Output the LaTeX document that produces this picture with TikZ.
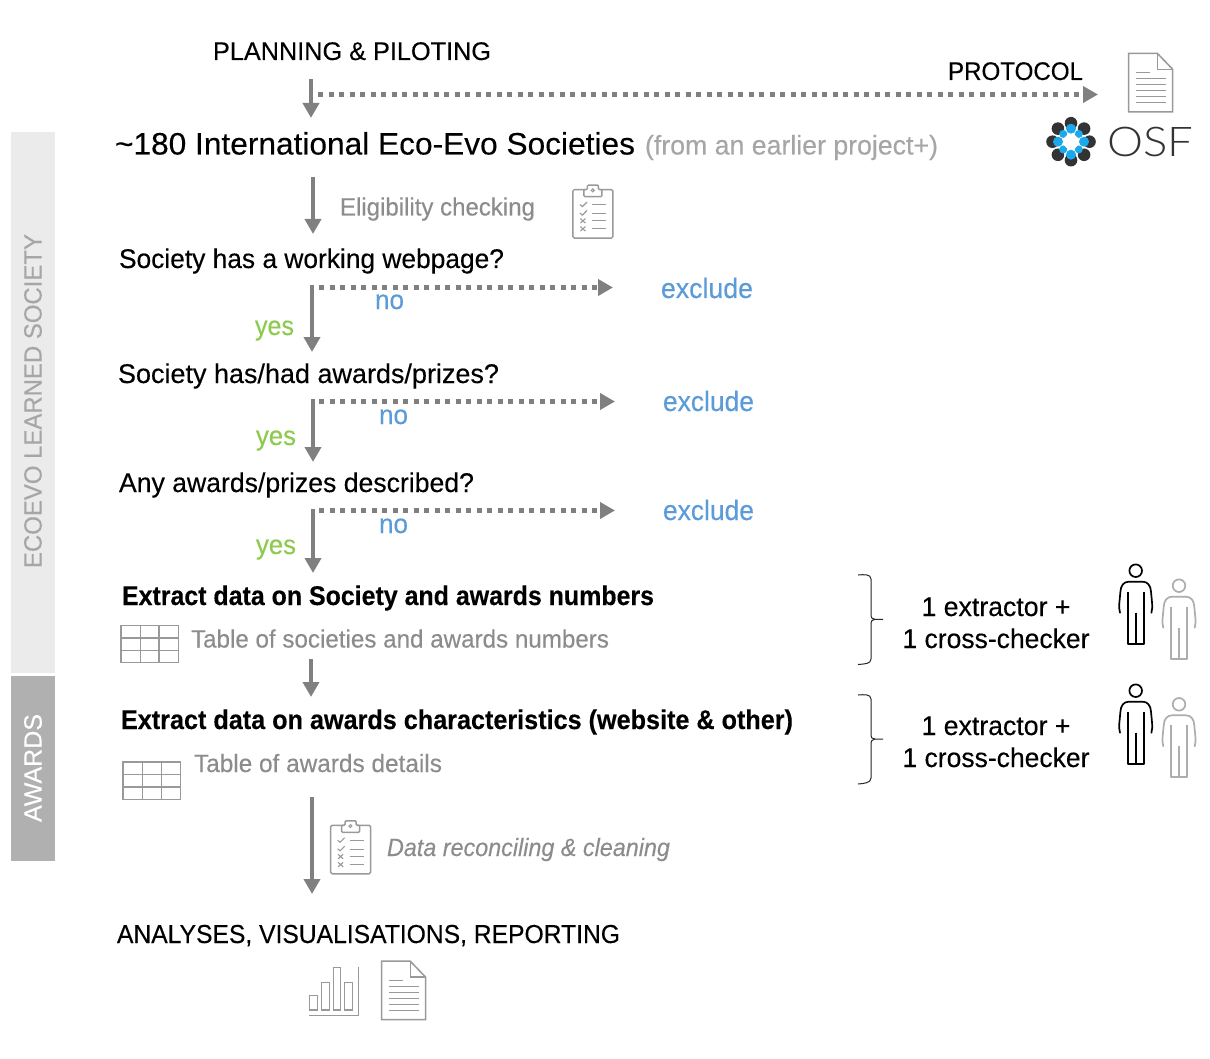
\documentclass[tikz,border=0pt]{standalone}
\usepackage{graphicx}
\usepackage{fontspec}
\setmainfont[FakeBold=0.25]{Liberation Sans}
\newfontfamily\osffont{Lato Light}
\usetikzlibrary{arrows.meta}
\definecolor{arrowgray}{HTML}{808080}
\definecolor{softgray}{HTML}{8C8C8C}
\definecolor{palegray}{HTML}{A6A6A6}
\definecolor{icongray}{HTML}{999999}
\definecolor{excludeblue}{HTML}{5B9BD8}
\definecolor{yesgreen}{HTML}{8CCB4E}
\definecolor{barlight}{HTML}{EBEBEB}
\definecolor{bardark}{HTML}{B0B0B0}
\definecolor{osfdark}{HTML}{333333}
\definecolor{osfblue}{HTML}{1CA9EC}
% width-fitted text: width, font size, text
\newcommand{\fw}[3]{\resizebox{#1pt}{\height}{\fontsize{#2}{#2}\selectfont #3}}
\tikzset{
  lbl/.style={anchor=base west,inner sep=0pt,outer sep=0pt},
  ctr/.style={anchor=base,inner sep=0pt,outer sep=0pt},
  flow/.style={draw=arrowgray,line width=4.6pt,-{Triangle[length=15pt,width=16pt]}},
  nogo/.style={draw=arrowgray,line width=4.6pt,dash pattern=on 5pt off 5.5pt,-{Triangle[length=15pt,width=16pt]}},
  brace/.style={draw=black!85,line width=1pt},
  pics/docicon/.style={code={
    \draw[icongray,line width=1.5pt,fill=white] (0,0) -- (28.6,0) -- (44,16) -- (44,58.7) -- (0,58.7) -- cycle;
    \draw[icongray,line width=1.2pt] (28.6,0) -- (28.6,16) -- (44,16);
    \draw[icongray,line width=1.2pt] (7.3,19.4) -- (21.3,19.4);
    \foreach \yy in {25.4,31.4,37.4,43.4,49.4} \draw[icongray,line width=1.2pt] (7.3,\yy) -- (37.3,\yy);
  }},
  pics/clipicon/.style={code={
    \draw[icongray,line width=1.4pt,rounded corners=1.5pt] (0,0) rectangle (40,48.5);
    \draw[icongray,line width=1.4pt,fill=white,rounded corners=1pt] (11,7) -- (11,0) -- (14.5,0) -- (14.5,-4.5) -- (25.5,-4.5) -- (25.5,0) -- (29,0) -- (29,7) -- cycle;
    \draw[icongray,line width=1pt] (19.8,0.8) circle (1.5);
    \foreach \yy in {15,24,31,39} \draw[icongray,line width=1.1pt] (19,\yy) -- (33,\yy);
    \draw[icongray,line width=1.1pt] (7,15) -- (9.5,17) -- (14,12.5);
    \draw[icongray,line width=1.1pt] (7,23.5) -- (9.5,25.5) -- (14,21);
    \draw[icongray,line width=1.1pt] (7.5,29) -- (12.5,33.5) (12.5,29) -- (7.5,33.5);
    \draw[icongray,line width=1.1pt] (7.5,37) -- (12.5,41.5) (12.5,37) -- (7.5,41.5);
  }},
  pics/tableicon/.style={code={
    \draw[icongray,line width=1.5pt] (0,0) rectangle (57.5,37.3);
    \draw[icongray,line width=1.5pt] (19.5,0) -- (19.5,37.3) (38.3,0) -- (38.3,37.3) (0,12.6) -- (57.5,12.6) (0,25) -- (57.5,25);
  }},
  pics/personicon/.style={code={
    \draw[line width=1.7pt,line join=round,line cap=round,pic actions] (0,0) circle (6.3);
    \draw[line width=1.7pt,line join=round,line cap=round,pic actions] (-15.7,42) .. controls (-17.5,37) and (-15.8,28) .. (-15.3,21) .. controls (-15,15) and (-12,11) .. (-7,11) -- (7,11) .. controls (12,11) and (15,15) .. (15.3,21) .. controls (15.8,28) and (17.5,37) .. (15.7,42);
    \draw[line width=1.7pt,line join=round,pic actions] (-8,21) -- (-8,73) -- (8,73) -- (8,21) (0,42) -- (0,73);
  }},
}
\begin{document}
\begin{tikzpicture}[x=1pt,y=-1pt]
\useasboundingbox[fill=white] (0,0) rectangle (1210,1059);
% side bars
\fill[barlight] (11,132) rectangle (55,673);
\fill[bardark] (11,676) rectangle (55,861);
\node[rotate=90,inner sep=0pt,text=palegray] (bar1) at (33,401) {\fw{334}{25}{ECOEVO LEARNED SOCIETY}};
\node[rotate=90,inner sep=0pt,text=white] (bar2) at (33,768) {\fw{108}{25}{AWARDS}};
% main texts
\node[lbl] (plan) at (213,60) {\fw{278}{25.5}{PLANNING \& PILOTING}};
\node[lbl] (prot) at (948,80) {\fw{135}{25.5}{PROTOCOL}};
\node[lbl] (soc) at (115,154.5) {\fw{520}{31}{\textasciitilde 180 International Eco-Evo Societies}};
\node[lbl,text=palegray] (early) at (645,154.5) {\fw{293}{27}{(from an earlier project+)}};
\node[lbl,text=softgray] (elig) at (340,215.5) {\fw{195}{25}{Eligibility checking}};
\node[lbl] (q1) at (119,268) {\fw{385}{27}{Society has a working webpage?}};
\node[lbl] (q2) at (118,383) {\fw{381}{27}{Society has/had awards/prizes?}};
\node[lbl] (q3) at (119,492) {\fw{355}{27}{Any awards/prizes described?}};
\node[lbl,text=excludeblue] (ex1) at (661,298) {\fw{92}{28}{exclude}};
\node[lbl,text=excludeblue] (ex2) at (663,411) {\fw{91}{28}{exclude}};
\node[lbl,text=excludeblue] (ex3) at (663,520) {\fw{91}{28}{exclude}};
\node[lbl,text=excludeblue] (no1) at (375,309) {\fw{29}{27}{no}};
\node[lbl,text=excludeblue] (no2) at (379,424) {\fw{29}{27}{no}};
\node[lbl,text=excludeblue] (no3) at (379,533) {\fw{29}{27}{no}};
\node[lbl,text=yesgreen] (y1) at (255,335) {\fw{39}{27}{yes}};
\node[lbl,text=yesgreen] (y2) at (256,445) {\fw{40}{27}{yes}};
\node[lbl,text=yesgreen] (y3) at (256,554) {\fw{40}{27}{yes}};
\node[lbl] (ext1) at (122,605) {\fw{532}{27}{\bfseries Extract data on Society and awards numbers}};
\node[lbl,text=softgray] (tab1) at (191,647.5) {\fw{418}{25}{Table of societies and awards numbers}};
\node[lbl] (ext2) at (121,729) {\fw{672}{27}{\bfseries Extract data on awards characteristics (website \& other)}};
\node[lbl,text=softgray] (tab2) at (194,772) {\fw{248}{25}{Table of awards details}};
\node[lbl,text=softgray] (clean) at (387,856) {\fw{283}{25}{\itshape Data reconciling \& cleaning}};
\node[lbl] (ana) at (117,943) {\fw{503}{26}{ANALYSES, VISUALISATIONS, REPORTING}};
\node[ctr] (r1a) at (996,616) {\fw{149}{27}{1 extractor +}};
\node[ctr] (r1b) at (996,648) {\fw{187}{27}{1 cross-checker}};
\node[ctr] (r2a) at (996,735) {\fw{149}{27}{1 extractor +}};
\node[ctr] (r2b) at (996,767) {\fw{187}{27}{1 cross-checker}};
% connector ends
\coordinate (a1s) at (311,79);  \coordinate (a1e) at (311,118);
\coordinate (d0s) at (318,94.5);  \coordinate (d0e) at (1098,94.5);
\coordinate (a2s) at (313,177); \coordinate (a2e) at (313,234);
\coordinate (a3s) at (312,285); \coordinate (a3e) at (312,352);
\coordinate (d1s) at (319,287.5); \coordinate (d1e) at (613,287.5);
\coordinate (a4s) at (313,399); \coordinate (a4e) at (313,462);
\coordinate (d2s) at (319,401.5); \coordinate (d2e) at (615,401.5);
\coordinate (a5s) at (313,509); \coordinate (a5e) at (313,573);
\coordinate (d3s) at (319,510.5); \coordinate (d3e) at (615,510.5);
\coordinate (a6s) at (311,659); \coordinate (a6e) at (311,697);
\coordinate (a7s) at (312,797); \coordinate (a7e) at (312,894);
\foreach \p in {a1,a2,a3,a4,a5,a6,a7} \draw[flow] (\p s) -- (\p e);
\foreach \p in {d0,d1,d2,d3} \draw[nogo] (\p s) -- (\p e);
% braces
\draw[brace] (858,575) .. controls (864,574.5) and (871,574) .. (871,579) -- (871,614) .. controls (871,618) and (872,619.3) .. (875,619.3) -- (883,619.3) (875,619.3) .. controls (872,619.3) and (871,621) .. (871,625) -- (871,659) .. controls (871,664) and (864,664) .. (858,664.5);
\draw[brace] (858,695) .. controls (864,694.5) and (871,694) .. (871,699) -- (871,734) .. controls (871,738) and (872,739) .. (875,739) -- (883,739) (875,739) .. controls (872,739) and (871,741) .. (871,745) -- (871,778) .. controls (871,783) and (864,783.5) .. (858,784);
% icons
\pic at (1128.7,53.3) {docicon};
\pic at (381.5,961) {docicon};
\pic at (572.9,189.6) {clipicon};
\pic at (330.6,825.3) {clipicon};
\pic at (120.8,625.4) {tableicon};
\pic at (123,762) {tableicon};
\pic[draw=black] at (1135.7,570.7) {personicon};
\pic[draw=black] at (1135.7,690.7) {personicon};
\pic[draw=black!32] at (1179,585.7) {personicon};
\pic[draw=black!32] at (1179,704.3) {personicon};
% bar chart
\draw[icongray,line width=1.5pt] (309.3,1015.7) -- (358.3,1015.7) -- (358.3,967.3);
\draw[icongray,line width=1.5pt] (309.3,995.3) rectangle (317.7,1010) (321.3,982.7) rectangle (329.3,1010) (333.3,967.3) rectangle (340.7,1010) (344.7,982.7) rectangle (352.7,1010);
% OSF logo
\begin{scope}[shift={(1071,141.7)}]
\foreach \a in {0,45,...,315} \fill[osfdark] (\a:18.5) circle (6.3);
\foreach \a in {45,135,225,315} \fill[osfblue] (\a:11) circle (4);
\foreach \a in {0,90,180,270} \fill[osfblue] (\a:13) circle (5);
\fill[white] (0,0) circle (7.5);
\end{scope}
\node[lbl,text=osfdark] (osf) at (1107,157) {\fw{86}{41}{\osffont OSF}};
\end{tikzpicture}
\end{document}
